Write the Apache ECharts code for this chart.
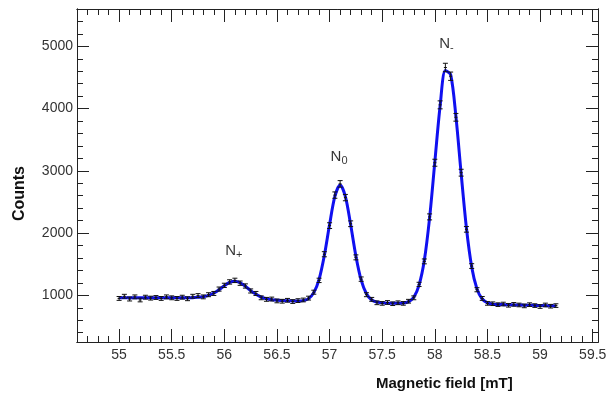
<!DOCTYPE html>
<html>
<head>
<meta charset="utf-8">
<script src="https://cdn.jsdelivr.net/npm/echarts@6/dist/echarts.min.js"></script>
<style>
  html, body { margin: 0; padding: 0; background: #fff; }
  #chart { width: 610px; height: 407px; }
</style>
</head>
<body>
<div id="chart"></div>
<script>
// magnetic field values (mT)
const field = [
  55.00, 55.05, 55.10, 55.15, 55.20, 55.25, 55.30, 55.35, 55.40, 55.45,
  55.50, 55.55, 55.60, 55.65, 55.70, 55.75, 55.80, 55.85, 55.90, 55.95,
  56.00, 56.05, 56.10, 56.15, 56.20, 56.25, 56.30, 56.35, 56.40, 56.45,
  56.50, 56.55, 56.60, 56.65, 56.70, 56.75, 56.80, 56.85, 56.90, 56.95,
  57.00, 57.05, 57.10, 57.15, 57.20, 57.25, 57.30, 57.35, 57.40, 57.45,
  57.50, 57.55, 57.60, 57.65, 57.70, 57.75, 57.80, 57.85, 57.90, 57.95,
  58.00, 58.05, 58.10, 58.15, 58.20, 58.25, 58.30, 58.35, 58.40, 58.45,
  58.50, 58.55, 58.60, 58.65, 58.70, 58.75, 58.80, 58.85, 58.90, 58.95,
  59.00, 59.05, 59.10, 59.15
]
// measured counts
const counts = [
  950, 985, 940, 975, 925, 970, 955, 965, 950, 975,
  960, 950, 970, 945, 985, 995, 975, 1010, 1030, 1100,
  1160, 1215, 1240, 1195, 1150, 1070, 1030, 960, 935, 940,
  910, 905, 920, 900, 915, 925, 955, 1050, 1240, 1660,
  2120, 2610, 2790, 2570, 2150, 1610, 1260, 1010, 935, 880,
  870, 885, 865, 880, 870, 905, 960, 1175, 1545, 2260,
  3130, 4060, 4660, 4520, 3860, 2970, 2060, 1470, 1090, 950,
  870, 865, 850, 860, 840, 855, 845, 830, 850, 835,
  820, 845, 825, 835
]
// statistical errors
const errors = [
  31, 31, 31, 31, 30, 31, 31, 31, 31, 31,
  31, 31, 31, 31, 31, 32, 31, 32, 32, 33,
  34, 35, 35, 35, 34, 33, 32, 31, 31, 31,
  30, 30, 30, 30, 30, 30, 31, 32, 35, 41,
  46, 51, 53, 51, 46, 40, 35, 32, 31, 30,
  29, 30, 29, 30, 29, 30, 31, 34, 39, 48,
  56, 64, 68, 67, 62, 55, 45, 38, 33, 31,
  29, 29, 29, 29, 29, 29, 29, 29, 29, 29,
  29, 29, 29, 29
]
// fitted curve
const fit = [
  962, 961, 960, 960, 959, 959, 959, 959, 960, 960,
  960, 961, 961, 962, 962, 968, 978, 1000, 1037, 1091,
  1155, 1208, 1228, 1202, 1145, 1075, 1017, 972, 945, 930,
  922, 915, 912, 910, 908, 915, 947, 1043, 1257, 1640,
  2140, 2589, 2772, 2586, 2133, 1629, 1243, 1025, 925, 890,
  879, 874, 872, 872, 876, 899, 970, 1164, 1562, 2244,
  3148, 4042, 4610, 4545, 3874, 2953, 2081, 1455, 1104, 941,
  878, 858, 852, 850, 848, 846, 844, 842, 840, 838,
  836, 834, 832, 830
]

// peak labels
const peakX = [56.09, 57.09, 58.11]
const peakY = [1700, 3210, 5025]
const peakSub = ['+', '0', '-']

// tick labels
const xTicks = [55, 55.5, 56, 56.5, 57, 57.5, 58, 58.5, 59, 59.5]
const yTicks = [1000, 2000, 3000, 4000, 5000]

const xMinor = []
for (let v = 547; v <= 595; v++) xMinor.push(v / 10)
const yMinor = []
for (let v = 400; v <= 5600; v += 200) yMinor.push(v)

const font = 'Liberation Sans'
const ink = '#222'

function xAxisDef(pos, values, len, labels) {
  return {
    type: 'value', position: pos, min: 54.6, max: 59.55,
    axisLine: { show: true, onZero: false, lineStyle: { color: ink, width: 1 } },
    axisTick: { show: true, inside: true, length: len, customValues: values, lineStyle: { color: ink } },
    axisLabel: labels
      ? { show: true, customValues: values, color: '#333', fontFamily: font, fontSize: 14, margin: 6 }
      : { show: false },
    splitLine: { show: false }
  }
}
function yAxisDef(pos, values, len, labels) {
  return {
    type: 'value', position: pos, min: 250, max: 5600,
    axisLine: { show: true, onZero: false, lineStyle: { color: ink, width: 1 } },
    axisTick: { show: true, inside: true, length: len, customValues: values, lineStyle: { color: ink } },
    axisLabel: labels
      ? { show: true, customValues: values, formatter: v => String(v), color: '#333', fontFamily: font, fontSize: 14, margin: 4 }
      : { show: false },
    splitLine: { show: false }
  }
}

const chart = echarts.init(document.getElementById('chart'))

const option = {
  animation: false,
  grid: { left: 77, right: 12, top: 9, bottom: 65 },
  xAxis: [
    xAxisDef('bottom', xTicks, 13, true),
    xAxisDef('bottom', xMinor, 6, false),
    xAxisDef('top', xTicks, 13, false),
    xAxisDef('top', xMinor, 6, false)
  ],
  yAxis: [
    yAxisDef('left', yTicks, 12, true),
    yAxisDef('left', yMinor, 6, false),
    yAxisDef('right', yTicks, 12, false),
    yAxisDef('right', yMinor, 6, false)
  ],
  graphic: [
    {
      type: 'text', left: 12, top: 166, rotation: Math.PI / 2,
      style: { text: 'Counts', font: 'bold 16px "Liberation Sans"', fill: '#111' }
    },
    {
      type: 'text', left: 376, top: 376,
      style: { text: 'Magnetic field [mT]', font: 'bold 15px "Liberation Sans"', fill: '#111' }
    }
  ],
  series: [
    {
      type: 'line',
      data: field.map((x, i) => [x, fit[i]]),
      smooth: 0.3,
      showSymbol: false,
      lineStyle: { color: '#1010f0', width: 3 },
      z: 2
    },
    {
      type: 'custom',
      data: field.map((x, i) => [x, counts[i], errors[i]]),
      encode: { x: 0, y: 1 },
      z: 3,
      renderItem: function (params, api) {
        const x = api.value(0), y = api.value(1), e = api.value(2)
        const top = api.coord([x, y + e])
        const bot = api.coord([x, y - e])
        const mid = api.coord([x, y])
        const st = { stroke: '#111', lineWidth: 1 }
        return {
          type: 'group',
          children: [
            { type: 'line', shape: { x1: top[0], y1: top[1], x2: bot[0], y2: bot[1] }, style: st },
            { type: 'line', shape: { x1: top[0] - 2.5, y1: top[1], x2: top[0] + 2.5, y2: top[1] }, style: st },
            { type: 'line', shape: { x1: bot[0] - 2.5, y1: bot[1], x2: bot[0] + 2.5, y2: bot[1] }, style: st },
            { type: 'line', shape: { x1: mid[0] - 1.5, y1: mid[1], x2: mid[0] + 1.5, y2: mid[1] }, style: st }
          ]
        }
      }
    },
    {
      type: 'scatter',
      data: peakX.map((x, i) => [x, peakY[i], peakSub[i]]),
      symbolSize: 0,
      z: 4,
      label: {
        show: true,
        position: 'inside',
        formatter: p => '{n|N}{s|' + p.value[2] + '}',
        rich: {
          n: { fontFamily: font, fontSize: 15, color: '#000', verticalAlign: 'top', lineHeight: 17 },
          s: { fontFamily: font, fontSize: 11, color: '#000', verticalAlign: 'bottom', lineHeight: 11, padding: [10, 0, 0, 0] }
        }
      }
    }
  ]
}

chart.setOption(option)
</script>
</body>
</html>
